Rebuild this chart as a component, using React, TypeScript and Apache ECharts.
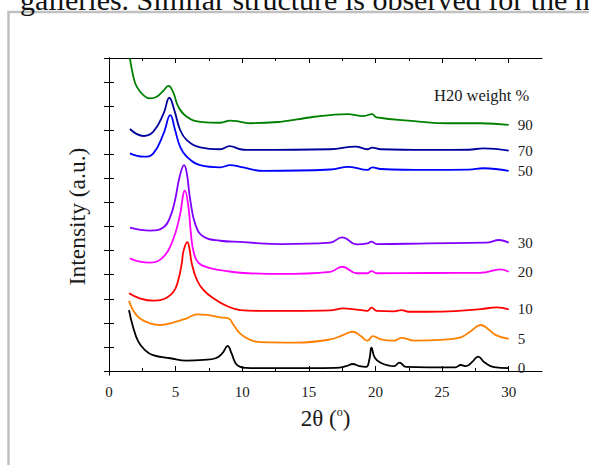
import React, { useEffect, useRef } from 'react';
import * as echarts from 'echarts';

const FONT = '"Liberation Serif", "Times New Roman", serif';

const xMajorTicks = [0, 5, 10, 15, 20, 25, 30];
const xMinorTicks = [2.5, 7.5, 12.5, 17.5, 22.5, 27.5];
const yTickValues = [0, 1, 2, 3, 4, 5, 6, 7, 8, 9, 10, 11, 12, 13];

const seriesNames = ['0', '5', '10', '20', '30', '50', '70', '90'];
const seriesColors = ['#000000', '#ff8000', '#ff0000', '#ff00ff', '#8000ff', '#0000ff', '#00009c', '#008000'];

// H2O 0 %
const x0 = [1.5, 1.8, 2.2, 2.7, 3.3, 4.6, 5.8, 7.1, 8.0, 8.5, 8.9, 9.2, 9.5, 9.85, 10.3, 11, 13, 15, 17, 17.8, 18.3, 18.8, 19.3, 19.55, 19.7, 19.95, 20.4, 21.4, 21.8, 22.3, 24, 26, 26.4, 26.8, 27.3, 27.7, 28.2, 28.9, 30];
const y0 = [2.53, 1.84, 1.22, 0.87, 0.66, 0.53, 0.43, 0.46, 0.53, 0.73, 1.04, 0.73, 0.32, 0.17, 0.13, 0.12, 0.12, 0.12, 0.13, 0.2, 0.29, 0.2, 0.17, 0.5, 0.97, 0.55, 0.34, 0.2, 0.35, 0.17, 0.15, 0.15, 0.25, 0.2, 0.4, 0.6, 0.35, 0.16, 0.12];
// 5 %
const x5 = [1.5, 1.8, 2.3, 3.08, 3.83, 4.8, 5.84, 6.6, 7.35, 8.35, 8.97, 9.35, 9.85, 10.6, 11.35, 14.1, 16.6, 17.6, 18.3, 18.9, 19.4, 19.8, 20.4, 21.4, 21.95, 22.9, 24.9, 26.4, 27.1, 27.9, 28.4, 29.0, 30];
const y5 = [2.92, 2.53, 2.19, 1.98, 1.91, 2.01, 2.19, 2.35, 2.33, 2.23, 2.19, 1.91, 1.55, 1.29, 1.2, 1.18, 1.31, 1.5, 1.63, 1.45, 1.26, 1.45, 1.31, 1.26, 1.38, 1.26, 1.29, 1.4, 1.63, 1.91, 1.77, 1.5, 1.33];
// 10 %
const x10 = [1.5, 2.3, 3.33, 4.08, 4.84, 5.2, 5.46, 5.6, 5.88, 6.05, 6.2, 6.6, 7.1, 7.84, 8.85, 9.85, 11.35, 14, 16.6, 17.6, 18.6, 19.4, 19.7, 20.1, 21.4, 21.95, 22.5, 25, 27.9, 29.1, 30];
const y10 = [3.23, 3.02, 2.92, 2.98, 3.29, 3.78, 4.47, 5.0, 5.35, 5.05, 4.5, 3.78, 3.36, 3.02, 2.7, 2.53, 2.5, 2.5, 2.52, 2.6, 2.55, 2.5, 2.63, 2.5, 2.48, 2.53, 2.46, 2.47, 2.57, 2.64, 2.56];
// 20 %
const x20 = [1.57, 2.3, 3.1, 4.1, 4.8, 5.3, 5.7, 5.96, 6.15, 6.35, 6.7, 7.4, 8.35, 9.85, 12.9, 16.6, 17.5, 18.6, 19.4, 19.7, 20.1, 24, 27.9, 29.4, 30];
const y20 = [4.68, 4.54, 4.5, 4.75, 5.44, 6.41, 7.49, 6.82, 5.7, 4.95, 4.5, 4.3, 4.19, 4.08, 4.03, 4.12, 4.33, 4.06, 4.06, 4.15, 4.06, 4.07, 4.08, 4.22, 4.12];
// 30 %
const x30 = [1.57, 3.1, 4.1, 4.6, 4.96, 5.3, 5.64, 5.84, 6.1, 6.5, 7.1, 8.35, 9.85, 13, 16.6, 17.5, 18.6, 19.4, 19.7, 20.1, 24, 28.3, 29.3, 30];
const y30 = [5.95, 5.83, 5.97, 6.41, 7.1, 8.07, 8.55, 8.21, 7.1, 6.06, 5.58, 5.41, 5.36, 5.27, 5.33, 5.55, 5.26, 5.3, 5.37, 5.27, 5.3, 5.33, 5.44, 5.33];
// 50 %
const x50 = [1.57, 2.6, 3.33, 4.1, 4.6, 4.96, 5.34, 5.84, 6.84, 8.35, 9.1, 9.85, 11.6, 16.6, 18.0, 19.4, 19.75, 20.4, 24, 27, 28.1, 30];
const y50 = [9.04, 8.9, 9.04, 9.87, 10.63, 10.01, 9.31, 8.9, 8.55, 8.46, 8.55, 8.48, 8.31, 8.37, 8.48, 8.35, 8.46, 8.39, 8.35, 8.36, 8.42, 8.31];
// 70 %
const x70 = [1.57, 2.6, 3.33, 4.1, 4.53, 4.9, 5.34, 5.84, 6.84, 8.35, 9.05, 9.85, 10.35, 16.6, 18.5, 19.4, 19.75, 20.4, 24, 27, 28.1, 30];
const y70 = [10.05, 9.76, 9.94, 10.7, 11.35, 10.84, 10.01, 9.59, 9.29, 9.21, 9.34, 9.21, 9.18, 9.21, 9.32, 9.21, 9.28, 9.21, 9.18, 9.19, 9.25, 9.15];
// 90 %
const x90 = [1.57, 1.83, 2.08, 2.58, 3.08, 3.58, 4.08, 4.46, 4.83, 5.2, 5.84, 6.84, 8.35, 9.1, 9.85, 10.6, 12.86, 14.1, 15.4, 16.6, 17.9, 19.1, 19.75, 20.1, 22.9, 25.4, 27.9, 30];
const y90 = [12.98, 12.22, 11.81, 11.46, 11.32, 11.39, 11.64, 11.84, 11.56, 10.98, 10.56, 10.35, 10.31, 10.4, 10.35, 10.29, 10.35, 10.45, 10.56, 10.63, 10.67, 10.59, 10.67, 10.53, 10.38, 10.29, 10.29, 10.22];

const xs = [x0, x5, x10, x20, x30, x50, x70, x90];
const ys = [y0, y5, y10, y20, y30, y50, y70, y90];

export default function App() {
  const ref = useRef<HTMLDivElement>(null);
  useEffect(() => {
    if (!ref.current) return;
    const chart = echarts.init(ref.current, undefined, { renderer: 'svg' });
    const axisLine = { show: true, lineStyle: { color: '#000', width: 1 } };
    const textColor = '#1a1a1a';
    const series = seriesNames.map((name, i) => ({
      type: 'line',
      name,
      data: xs[i].map((x, j) => [x, ys[i][j]]),
      smooth: 0.45,
      showSymbol: false,
      symbol: 'none',
      lineStyle: { color: seriesColors[i], width: 1.8 },
      itemStyle: { color: seriesColors[i] },
      endLabel: {
        show: true,
        formatter: '{a}',
        distance: 9,
        color: textColor,
        fontSize: 15,
        fontFamily: FONT,
      },
      xAxisIndex: 0,
      yAxisIndex: 0,
      z: 3,
    }));
    chart.setOption({
      animation: false,
      backgroundColor: '#fff',
      grid: { left: 109, right: 47, top: 58, bottom: 90, containLabel: false },
      xAxis: [
        {
          type: 'value', position: 'bottom', min: 0, max: 32.5,
          axisLine,
          axisTick: { show: true, inside: true, length: 5, customValues: xMajorTicks, lineStyle: { color: '#000' } },
          axisLabel: { show: true, customValues: xMajorTicks, margin: 9, color: textColor, fontSize: 15, fontFamily: FONT },
          splitLine: { show: false },
          name: '{a|2θ (}{b|o}{a|)}',
          nameLocation: 'middle',
          nameGap: 31,
          nameTextStyle: {
            color: textColor, fontFamily: FONT, fontSize: 23,
            rich: {
              a: { fontSize: 23, fontFamily: FONT, color: textColor },
              b: { fontSize: 12, fontFamily: FONT, color: textColor, padding: [0, 0, 12, 0] },
            },
          },
        },
        {
          type: 'value', position: 'bottom', min: 0, max: 32.5,
          axisLine: { show: false },
          axisTick: { show: true, inside: true, length: 3, customValues: xMinorTicks, lineStyle: { color: '#000' } },
          axisLabel: { show: false },
          splitLine: { show: false },
        },
        {
          type: 'value', position: 'top', min: 0, max: 32.5,
          axisLine,
          axisTick: { show: true, inside: true, length: 5, customValues: xMajorTicks, lineStyle: { color: '#000' } },
          axisLabel: { show: false },
          splitLine: { show: false },
        },
        {
          type: 'value', position: 'top', min: 0, max: 32.5,
          axisLine: { show: false },
          axisTick: { show: true, inside: true, length: 3, customValues: xMinorTicks, lineStyle: { color: '#000' } },
          axisLabel: { show: false },
          splitLine: { show: false },
        },
      ],
      yAxis: [
        {
          type: 'value', position: 'left', min: -0.166, max: 13,
          axisLine,
          axisTick: { show: true, inside: true, length: 5, customValues: yTickValues, lineStyle: { color: '#000' } },
          axisLabel: { show: false },
          splitLine: { show: false },
          name: 'Intensity (a.u.)',
          nameLocation: 'middle',
          nameGap: 20,
          nameTextStyle: { color: textColor, fontFamily: FONT, fontSize: 23.5 },
        },
        {
          type: 'value', position: 'right', min: -0.166, max: 13,
          axisLine,
          axisTick: { show: true, inside: true, length: 5, customValues: yTickValues, lineStyle: { color: '#000' } },
          axisLabel: { show: false },
          splitLine: { show: false },
        },
      ],
      graphic: [
        {
          type: 'rect',
          shape: { x: 8.5, y: 12, width: 640, height: 520 },
          style: { fill: 'none', stroke: '#c0c0c0', lineWidth: 2.5 },
          silent: true,
        },
        {
          type: 'text',
          x: 20,
          y: 14,
          style: {
            text: 'galleries. Similar structure is observed for the m',
            fontFamily: FONT,
            fontSize: 30,
            fill: '#111',
            verticalAlign: 'bottom',
            align: 'left',
          },
          silent: true,
        },
        {
          type: 'text',
          x: 434,
          y: 95,
          style: {
            text: 'H20 weight %',
            fontFamily: FONT,
            fontSize: 16.5,
            fill: textColor,
            verticalAlign: 'middle',
            align: 'left',
          },
          silent: true,
        },
      ],
      series,
    });
    return () => chart.dispose();
  }, []);
  return (
    <div
      ref={ref}
      style={{ position: 'absolute', left: 0, top: 0, width: 589, height: 465 }}
    />
  );
}
